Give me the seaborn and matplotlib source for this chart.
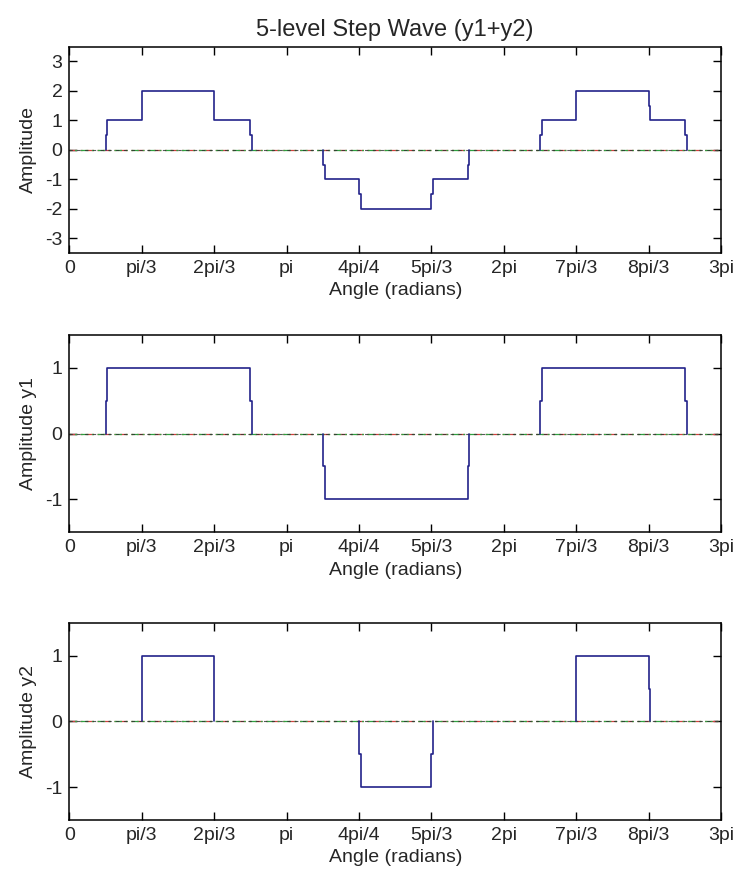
import numpy as np
import pandas as pd
import matplotlib
matplotlib.use("Agg")
import matplotlib.pyplot as plt
import seaborn as sns

# switching points of the two square waves, in multiples of pi
y1_edges = [1/6, 5/6, 7/6, 11/6, 13/6, 17/6]
y1_levels = [0, 1, 0, -1, 0, 1, 0]
y2_edges = [1/3, 2/3, 4/3, 5/3, 7/3, 8/3]
y2_levels = [0, 1, 0, -1, 0, 1, 0]
# edges where the sampled wave shows a half-level sample
notched = [1/6, 5/6, 7/6, 11/6, 13/6, 17/6, 4/3, 5/3, 8/3]

tick_labels = ["0", "pi/3", "2pi/3", "pi", "4pi/4", "5pi/3", "2pi",
               "7pi/3", "8pi/3", "3pi"]
x_end = 3  # multiples of pi


def level_at(edges, levels, x):
    i = np.searchsorted(edges, x, side="right")
    return levels[i]


def step_frame(edges, levels, w=0.025):
    # polyline pieces; the zero-level stretches are not drawn
    rows = []
    seg = 0
    for i, e in enumerate(edges):
        a, b = levels[i], levels[i + 1]
        x0 = e * np.pi
        if any(abs(e - n) < 1e-9 for n in notched):
            pts = [(x0, a), (x0, (a + b) / 2), (x0 + w, (a + b) / 2), (x0 + w, b)]
        else:
            pts = [(x0, a), (x0, b)]
        for x, y in pts:
            rows.append((x, y, seg))
        if b == 0:
            seg += 1
        else:
            nxt = edges[i + 1] * np.pi if i + 1 < len(edges) else x_end * np.pi
            rows.append((nxt, b, seg))
    return pd.DataFrame(rows, columns=["x", "y", "seg"])


# sum y1 + y2 on the merged edge list
sum_edges = sorted(set(y1_edges + y2_edges))
sum_levels = [level_at(y1_edges, y1_levels, 0) + level_at(y2_edges, y2_levels, 0)]
for e in sum_edges:
    sum_levels.append(level_at(y1_edges, y1_levels, e + 1e-9)
                      + level_at(y2_edges, y2_levels, e + 1e-9))

sns.set_style("ticks")
plt.rcParams["font.family"] = ["Liberation Sans", "DejaVu Sans"]
plt.rcParams["axes.unicode_minus"] = False

fig = plt.figure(figsize=(7.36, 8.82), dpi=100)
boxes = [
    [0.0944, 0.7132, 0.8852, 0.2338],
    [0.0944, 0.3968, 0.8852, 0.2234],
    [0.0944, 0.0703, 0.8852, 0.2234],
]
panels = [
    (step_frame(sum_edges, sum_levels), "Amplitude", (-3.5, 3.5), [-3, -2, -1, 0, 1, 2, 3]),
    (step_frame(y1_edges, y1_levels), "Amplitude y1", (-1.5, 1.5), [-1, 0, 1]),
    (step_frame(y2_edges, y2_levels), "Amplitude y2", (-1.5, 1.5), [-1, 0, 1]),
]

for box, (df, ylab, ylim, yt) in zip(boxes, panels):
    ax = fig.add_axes(box)
    # zero reference line, dash-dot in mixed colours
    ax.axhline(0, color="#d04040", lw=0.9, ls=(0, (6, 3, 1.5, 3)), zorder=1)
    ax.axhline(0, color="#30a040", lw=0.9, ls=(4.5, (6, 3, 1.5, 3)), zorder=1)
    ax.axhline(0, color="#303030", lw=0.8, ls=(0, (3, 4)), zorder=1, alpha=0.8)
    sns.lineplot(data=df, x="x", y="y", units="seg", estimator=None, sort=False,
                 color="#23238a", lw=1.2, ax=ax, zorder=3)
    ax.set_xlim(0, x_end * np.pi)
    ax.set_ylim(*ylim)
    ax.set_xticks(np.arange(len(tick_labels)) * np.pi / 3)
    ax.set_xticklabels(tick_labels)
    ax.set_yticks(yt)
    ax.set_xlabel("Angle (radians)", fontsize=14, labelpad=4)
    ax.set_ylabel(ylab, fontsize=14, labelpad=6)
    ax.tick_params(direction="in", length=6, width=1, top=True, right=True,
                   labelsize=14, pad=5, color="black")
    for s in ax.spines.values():
        s.set_visible(True)
        s.set_linewidth(1.1)
        s.set_color("black")
    if ylab == "Amplitude":
        ax.set_title("5-level Step Wave (y1+y2)", fontsize=17, pad=8)

fig.savefig("out.png", dpi=100)
